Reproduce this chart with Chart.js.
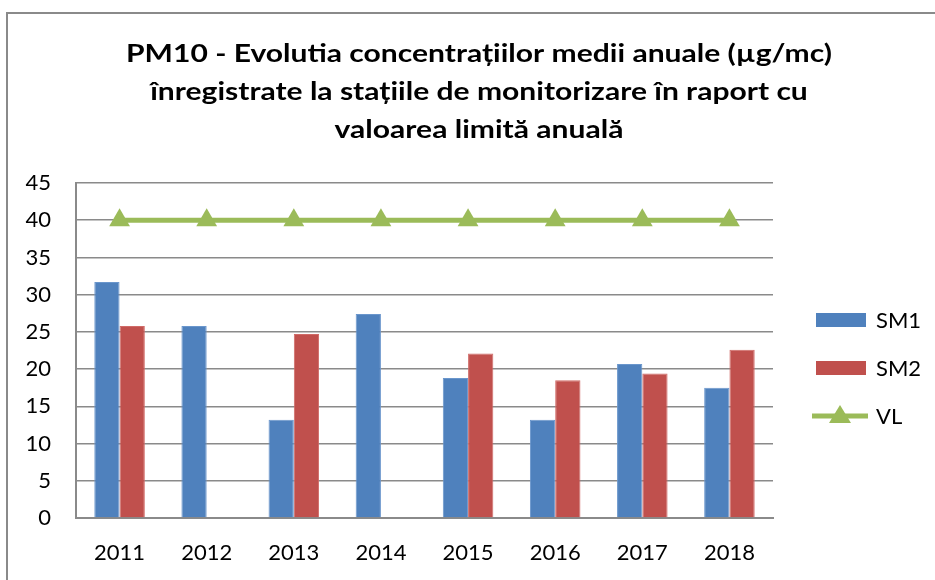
<!DOCTYPE html>
<html>
<head>
<meta charset="utf-8">
<script src="https://cdn.jsdelivr.net/npm/chart.js@4"></script>
<style>
  body { margin: 0; background: #fff; }
  #wrap { position: relative; width: 935px; height: 580px; overflow: hidden; }
  #frame { position: absolute; left: 6px; top: 12px; width: 1000px; height: 700px;
           border-left: 2px solid #8a8a8a; border-top: 2px solid #8a8a8a; }
  canvas { position: absolute; left: 0; top: 0; }
</style>
</head>
<body>
<div id="wrap">
  <div id="frame"></div>
  <canvas id="pmChart" width="935" height="580"></canvas>
</div>
<script>
// data
const years = ["2011", "2012", "2013", "2014", "2015", "2016", "2017", "2018"];
const sm1 = [31.7, 25.8, 13.2, 27.4, 18.8, 13.2, 20.7, 17.5];
const sm2 = [25.8, null, 24.7, null, 22.1, 18.5, 19.4, 22.6];
const vl = [40, 40, 40, 40, 40, 40, 40, 40];
const titleLines = [
  "PM10 - Evolutia concentrațiilor medii anuale (µg/mc)",
  "înregistrate la stațiile de monitorizare în raport cu",
  "valoarea limită anuală"
];

const FONT = "Lato, 'Open Sans', sans-serif";

// title + legend drawn by hand so they sit where the original puts them
const decor = {
  id: "decor",
  afterDraw(chart) {
    const ctx = chart.ctx;
    ctx.save();
    ctx.fillStyle = "#000";
    ctx.font = "bold 25px " + FONT;
    ctx.textAlign = "center";
    ctx.textBaseline = "middle";
    // original title font is narrower and wider-set than Lato, stretch to its width
    const sx = 706 / ctx.measureText(titleLines[0]).width;
    titleLines.forEach((t, i) => {
      ctx.save();
      ctx.translate(479, 54 + i * 38);
      ctx.scale(sx, 1);
      ctx.fillText(t, 0, 0);
      ctx.restore();
    });

    ctx.font = "22px " + FONT;
    ctx.textAlign = "left";
    chart.data.datasets.forEach((ds, i) => {
      const y = 320 + i * 48;
      if (ds.type === "line") {
        ctx.strokeStyle = ds.borderColor;
        ctx.lineWidth = ds.borderWidth;
        ctx.beginPath();
        ctx.moveTo(812, y);
        ctx.lineTo(868, y);
        ctx.stroke();
        ctx.fillStyle = ds.borderColor;
        ctx.beginPath();
        ctx.moveTo(840, y - 11);
        ctx.lineTo(851, y + 7);
        ctx.lineTo(829, y + 7);
        ctx.closePath();
        ctx.fill();
      } else {
        ctx.fillStyle = ds.backgroundColor;
        ctx.fillRect(816, y - 7, 50, 14);
      }
      ctx.fillStyle = "#000";
      ctx.fillText(ds.label, 876, y + 1);
    });
    ctx.restore();
  }
};

new Chart(document.getElementById("pmChart").getContext("2d"), {
  type: "bar",
  data: {
    labels: years,
    datasets: [
      {
        label: "SM1",
        data: sm1,
        backgroundColor: "#4F81BD",
        borderColor: "#6a96cc",
        borderWidth: 1,
        categoryPercentage: 0.58,
        barPercentage: 1,
        order: 2
      },
      {
        label: "SM2",
        data: sm2,
        backgroundColor: "#C0504D",
        borderColor: "#d06a67",
        borderWidth: 1,
        categoryPercentage: 0.58,
        barPercentage: 1,
        order: 2
      },
      {
        type: "line",
        label: "VL",
        data: vl,
        borderColor: "#9BBB59",
        backgroundColor: "#9BBB59",
        borderWidth: 5,
        pointStyle: "triangle",
        pointRadius: 12,
        pointHoverRadius: 12,
        pointBorderWidth: 0,
        order: 1
      }
    ]
  },
  options: {
    responsive: false,
    animation: false,
    events: [],
    layout: { padding: { left: 10, right: 162, top: 183, bottom: 0 } },
    plugins: {
      legend: { display: false },
      title: { display: false },
      tooltip: { enabled: false }
    },
    scales: {
      x: {
        grid: { display: false, drawTicks: false },
        border: { color: "#8a8a8a", width: 2 },
        ticks: { color: "#000", font: { family: FONT, size: 22 }, padding: 22 },
        afterFit: s => { s.height = 62; }
      },
      y: {
        min: 0,
        max: 45,
        ticks: { stepSize: 5, color: "#000", font: { family: FONT, size: 22 }, padding: 25 },
        grid: { color: "#8a8a8a", lineWidth: 1.5, drawTicks: false },
        border: { color: "#8a8a8a", width: 2 },
        afterFit: s => { s.width = 66; }
      }
    }
  },
  plugins: [decor]
});
</script>
</body>
</html>
